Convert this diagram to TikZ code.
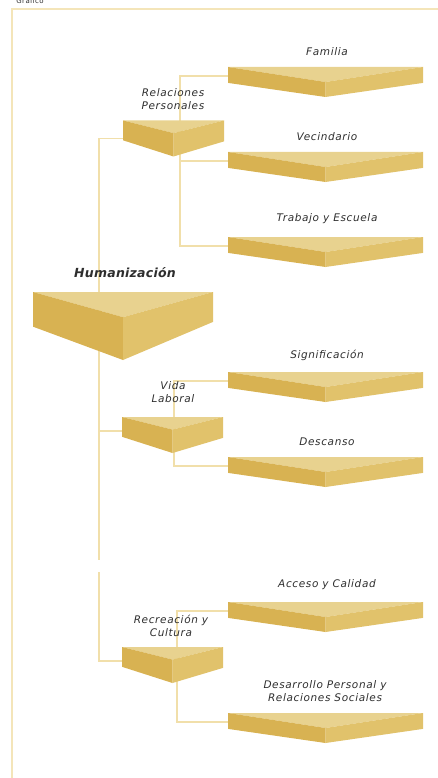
\documentclass[tikz,border=0pt]{standalone}
\usepackage{fontspec}
\setmainfont{DejaVu Sans}
\newfontfamily\lblfont[LetterSpace=6]{DejaVu Sans}
\newfontfamily\humfont[LetterSpace=2]{DejaVu Sans}
\usepackage{tikz}
\usetikzlibrary{calc,backgrounds}
\definecolor{facetop}{HTML}{E8D28F}
\definecolor{faceleft}{HTML}{D8B252}
\definecolor{faceright}{HTML}{E1C26B}
\definecolor{linkcol}{HTML}{F1DFAA}
\definecolor{framecol}{HTML}{F4E5B9}
\definecolor{lblcol}{HTML}{2E2E2E}
\tikzset{
  prism/.style n args={3}{
    inner sep=0pt, outer sep=0pt,
    path picture={
      \coordinate (pnw) at (path picture bounding box.north west);
      \coordinate (pne) at (path picture bounding box.north east);
      \coordinate (ptip) at (path picture bounding box.south);
      \coordinate (papex) at ($(pnw)!.5!(pne)!#1!(ptip)$);
      \coordinate (psw) at ($(pnw)!#2!(path picture bounding box.south west)$);
      \coordinate (pse) at ($(pne)!#3!(path picture bounding box.south east)$);
      \fill[facetop] (pnw) -- (pne) -- (papex) -- cycle;
      \fill[faceleft] (pnw) -- (papex) -- (ptip) -- (psw) -- cycle;
      \fill[faceright] (pne) -- (papex) -- (ptip) -- (pse) -- cycle;
    }},
  bar/.style={prism={0.5}{0.53}{0.53}, minimum width=195pt, minimum height=30pt},
  subbar/.style={prism={0.35}{0.55}{0.58}, minimum width=101pt, minimum height=36pt},
  mainbar/.style={prism={0.37}{0.51}{0.44}, minimum width=180pt, minimum height=68pt},
  lbl/.style={inner sep=0pt, align=center, text=lblcol,
    font=\lblfont\itshape\fontsize{10.5}{13.5}\selectfont},
  hlbl/.style={lbl, font=\humfont\bfseries\itshape\fontsize{12.5}{14}\selectfont},
  link/.style={draw=linkcol, line width=1.5pt},
  frameline/.style={draw=framecol, line width=2.5pt},
}

\begin{document}
\begin{tikzpicture}[x=1pt,y=-1pt]
  \useasboundingbox (0,0) rectangle (438,778);
  \node[lbl, font=\lblfont\fontsize{7}{8}\selectfont, anchor=base] (title) at (30,4) {Gráfico};
  \draw[frameline] (12,778) -- (12,9) -- (438,9);

  % main block
  \node[mainbar] (hum) at (123,326) {};
  \node[hlbl] (humlbl) at (125,273) {Humanización};

  % Relaciones Personales
  \node[subbar] (relp) at (173.5,138.5) {};
  \node[lbl] (relplbl) at (173,99) {Relaciones\\Personales};
  \node[bar] (fam) at (325.5,82) {};
  \node[lbl] (famlbl) at (327,52) {Familia};
  \node[bar] (vec) at (325.5,167) {};
  \node[lbl] (veclbl) at (327,137) {Vecindario};
  \node[bar] (trab) at (325.5,252) {};
  \node[lbl] (trablbl) at (327,219) {Trabajo y Escuela};

  % Vida Laboral
  \node[subbar] (vida) at (172.5,435) {};
  \node[lbl] (vidalbl) at (173,392) {Vida\\Laboral};
  \node[bar] (sig) at (325.5,387) {};
  \node[lbl] (siglbl) at (327,355) {Significación};
  \node[bar] (desc) at (325.5,472) {};
  \node[lbl] (desclbl) at (327,442) {Descanso};

  % Recreacion y Cultura
  \node[subbar] (recr) at (172.5,665) {};
  \node[lbl] (recrlbl) at (171,626) {Recreación y\\Cultura};
  \node[bar] (acc) at (325.5,617) {};
  \node[lbl] (acclbl) at (327,585) {Acceso y Calidad};
  \node[bar] (desa) at (325.5,728) {};
  \node[lbl] (desalbl) at (325,691) {Desarrollo Personal y\\Relaciones Sociales};

  \begin{scope}[on background layer]
    \coordinate (gaptop) at (99,560);
    \coordinate (gapbot) at (99,572);
    \draw[link] (relp.west) -| (gaptop);
    \draw[link] ([yshift=4pt]vida.west) -- ([yshift=4pt]vida.west -| gaptop);
    \draw[link] (gapbot) |- ([yshift=4pt]recr.west);
    % sub branches
    \coordinate (relbus) at (180,0);
    \coordinate (vidabus) at (174,0);
    \coordinate (recrbus) at (177,0);
    \foreach \b in {fam,vec,trab,sig,desc,acc,desa}
      \coordinate (\b in) at ([yshift=-9pt]\b.north west);
    \draw[link] (famin) -| (relbus |- trabin) -- (trabin);
    \draw[link] (vecin) -- (vecin -| relbus);
    \draw[link] (sigin) -| (vidabus |- descin) -- (descin);
    \draw[link] (accin) -| (recrbus |- desain) -- (desain);
  \end{scope}
\end{tikzpicture}
\end{document}
